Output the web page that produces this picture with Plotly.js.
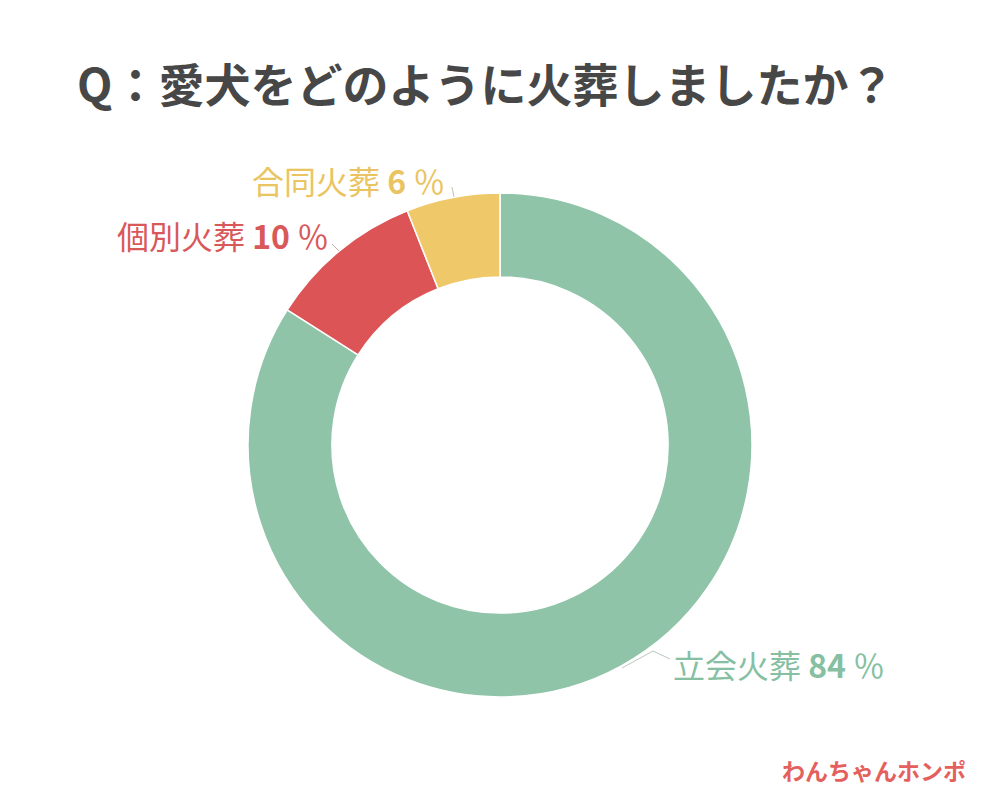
<!DOCTYPE html>
<html>
<head>
<meta charset="utf-8">
<script src="https://cdn.plot.ly/plotly-3.0.1.min.js"></script>
<style>html,body{margin:0;padding:0;background:#fff;}#chart{width:1000px;height:800px;}</style>
</head>
<body>
<div id="chart"></div>
<script>
const categories = ["立会火葬", "個別火葬", "合同火葬"];
const values = [84, 10, 6];
const colors = ["#8fc4a8", "#dc5455", "#efc969"];
const textColors = ["#86bfa2", "#d9585a", "#ebc462"];
const titleText = "Q：愛犬をどのように火葬しましたか？";
const brandText = "わんちゃんホンポ";

const font = "'Noto Sans CJK JP', 'Noto Sans', sans-serif";

const trace = {
  type: "pie",
  labels: categories,
  values: values,
  hole: 0.667,
  sort: false,
  direction: "clockwise",
  rotation: 0,
  textinfo: "none",
  hoverinfo: "label+percent",
  marker: { colors: colors, line: { color: "#ffffff", width: 1.5 } },
  domain: { x: [0.248, 0.752], y: [0.12875, 0.75875] },
  showlegend: false
};

// label placements (layout, paper coordinates)
const labelPos = [
  { x: 0.671, y: 0.170, xanchor: "left" },
  { x: 0.331, y: 0.706, xanchor: "right" },
  { x: 0.447, y: 0.775, xanchor: "right" }
];

const annotations = categories.map((c, i) => ({
  xref: "paper", yref: "paper",
  x: labelPos[i].x, y: labelPos[i].y,
  xanchor: labelPos[i].xanchor, yanchor: "middle",
  showarrow: false,
  text: c + " <b>" + values[i] + "</b> ％",
  font: { family: font, size: 32, color: textColors[i] }
}));

annotations.push({
  xref: "paper", yref: "paper",
  x: 0.968, y: 1 - 770 / 800,
  xanchor: "right", yanchor: "middle",
  showarrow: false,
  text: "<b>" + brandText + "</b>",
  font: { family: font, size: 23, color: "#e4605c" }
});

const P = (px, py) => [px / 1000, 1 - py / 800];
function pathOf(pts) {
  return pts.map((p, i) => (i ? "L" : "M") + P(p[0], p[1]).join(",")).join(" ");
}
const leaderColor = "#b9c9c0";
const shapes = [
  { type: "path", xref: "paper", yref: "paper", path: pathOf([[622, 668], [653, 651], [670, 659]]), line: { color: leaderColor, width: 1 } },
  { type: "path", xref: "paper", yref: "paper", path: pathOf([[332, 244], [339, 251]]), line: { color: "#c8a8a8", width: 1 } },
  { type: "path", xref: "paper", yref: "paper", path: pathOf([[452, 187], [454, 197]]), line: { color: "#c8c0a8", width: 1 } }
];

const layout = {
  width: 1000, height: 800,
  margin: { l: 0, r: 0, t: 0, b: 0 },
  paper_bgcolor: "#ffffff",
  plot_bgcolor: "#ffffff",
  title: {
    text: "<b>" + titleText + "</b>",
    x: 0.077, xanchor: "left", xref: "paper",
    y: 1 - 86 / 800, yanchor: "middle", yref: "paper",
    font: { family: font, size: 46, color: "#474747" }
  },
  annotations: annotations,
  shapes: shapes
};

Plotly.newPlot("chart", [trace], layout, { displayModeBar: false, staticPlot: true });
</script>
</body>
</html>
